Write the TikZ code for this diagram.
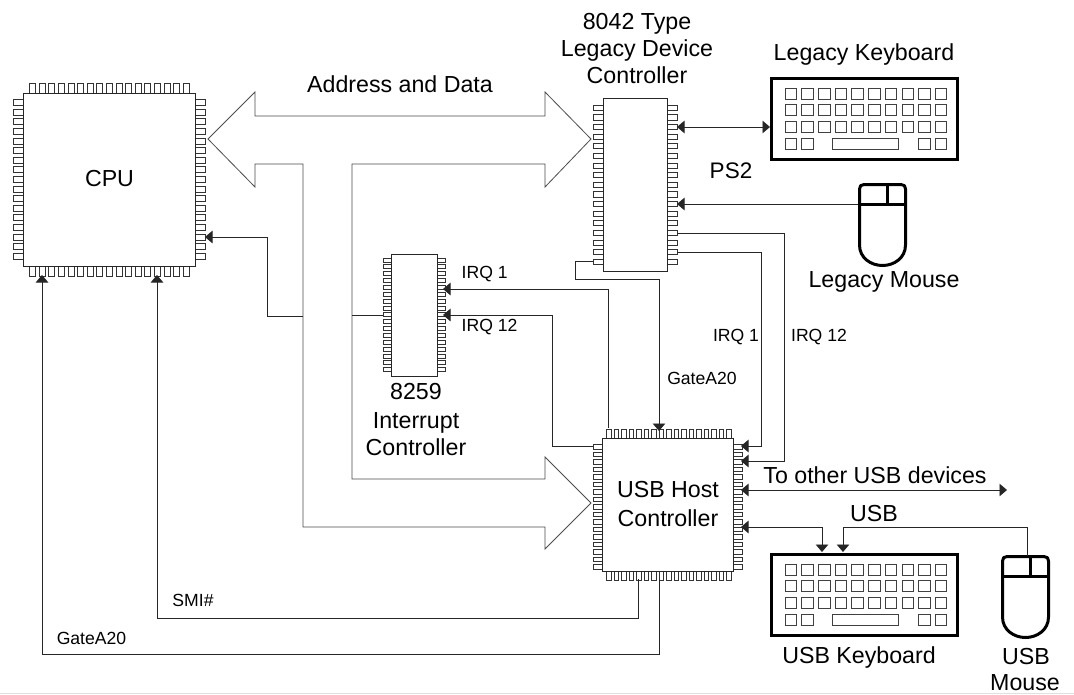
\documentclass[tikz,border=0pt]{standalone}
\usepackage{fontspec}
\setmainfont{Liberation Sans}
\usetikzlibrary{arrows.meta}
\newcommand{\bigtxt}{\fontsize{23.2}{27}\selectfont}
\newcommand{\smalltxt}{\fontsize{17.6}{21}\selectfont}
\newcommand{\pinsH}[6]{% left & right pins: x1,x2,len,firstY,pitch,halfthick
  \foreach \i in {0,...,16}{
    \pgfmathsetmacro{\yy}{#4+\i*#5}
    \draw[pin] (#1-#3,\yy-#6) rectangle (#1,\yy+#6);
    \draw[pin] (#2,\yy-#6) rectangle (#2+#3,\yy+#6);
  }}
\newcommand{\pinsV}[6]{% top & bottom pins: y1,y2,len,firstX,pitch,halfthick
  \foreach \i in {0,...,16}{
    \pgfmathsetmacro{\xx}{#4+\i*#5}
    \draw[pin] (\xx-#6,#1-#3) rectangle (\xx+#6,#1);
    \draw[pin] (\xx-#6,#2) rectangle (\xx+#6,#2+#3);
  }}
\newcommand{\keyboard}[3]{% name, x0, y0
  \node[kbdbox,minimum width=186pt,minimum height=81pt,anchor=north west] (#1) at (#2+1.5,#3+1.5) {};
  \begin{scope}[shift={(#2,#3)}]
    \foreach \r in {0,1,2}{\foreach \c in {0,...,9}{
      \draw[keycap] (15+\c*16.7,11+\r*16.7) rectangle ++(11.5,11);
    }}
    \foreach \c in {0,1,8,9}{\draw[keycap] (15+\c*16.7,61) rectangle ++(11.5,11);}
    \draw[keycap] (62,61) rectangle ++(66.5,11);
  \end{scope}}
\newcommand{\mouse}[2]{% x0, y0 (outer left, top)
  \begin{scope}[shift={(#1,#2)}]
    \draw[mousebody] (1.5,6) .. controls (1.5,3) and (3,1.5) .. (6,1.5) -- (43,1.5)
      .. controls (46,1.5) and (47.5,3) .. (47.5,6) -- (47.5,62)
      .. controls (47.5,75) and (36,82.5) .. (24.5,82.5)
      .. controls (13,82.5) and (1.5,75) .. (1.5,62) -- cycle;
    \draw[mousebody] (1.5,21.5) -- (47.5,21.5) (29.5,1.5) -- (29.5,21.5);
  \end{scope}}
\tikzset{
  pin/.style={draw=black!80,line width=0.75pt,fill=white},
  chipbox/.style={draw=black!85,line width=0.9pt,fill=white,inner sep=0pt,outer sep=0pt,align=center},
  kbdbox/.style={draw=black,line width=3pt,fill=white,inner sep=0pt,outer sep=0pt},
  keycap/.style={draw=black!75,line width=0.75pt},
  mousebody/.style={draw=black,line width=3pt,line join=round},
  bus/.style={draw=black!70,line width=0.8pt,fill=white,line join=miter},
  conn/.style={draw=black!85,line width=0.85pt},
  arr/.style={conn,-{Triangle[length=7.5pt,width=12.5pt]}},
  biarr/.style={conn,{Triangle[length=7.5pt,width=12.5pt]}-{Triangle[length=7.5pt,width=12.5pt]}},
  big/.style={font=\bigtxt,inner sep=0pt,align=center},
  small/.style={font=\smalltxt,inner sep=0pt,align=center},
}
\begin{document}
\begin{tikzpicture}[x=1pt,y=-1pt]
\useasboundingbox (0,0) rectangle (1074,694);
\fill[white] (0,0) rectangle (1074,694);
\fill[black!12] (0,692.5) rectangle (1074,694);

% ---------- chips
\pinsH{23}{195}{10}{102.5}{9.6}{3}
\pinsV{93}{266}{10}{32.5}{9.6}{3}
\node[chipbox,minimum width=172pt,minimum height=173pt,anchor=north west] (cpu) at (23,93) {};
\node[big] (cpulbl) at (109.5,179) {CPU};

\pinsH{603}{667}{10}{107.7}{9.63}{2.6}
\node[chipbox,minimum width=64pt,minimum height=173pt,anchor=north west] (kbc) at (603,98) {};

\pinsH{391}{437}{8}{260}{6.85}{2}
\node[chipbox,minimum width=46pt,minimum height=122pt,anchor=north west] (pic) at (391,254) {};

\pinsH{602}{733}{9}{447}{7.5}{2.3}
\pinsV{438}{571}{9}{609}{7.5}{2.3}
\node[chipbox,minimum width=131pt,minimum height=133pt,anchor=north west] (usb) at (602,438) {};
\node[big] (usblbl) at (668,504) {USB Host\\[1.5pt]Controller};

% ---------- shared bus
\draw[bus] (208,139) -- (255,92) -- (255,116) -- (545,116) -- (545,92) -- (591,139) -- (545,187) -- (545,164)
  -- (352,164) -- (352,479) -- (545,479) -- (545,457) -- (591,503) -- (545,549) -- (545,527)
  -- (303,527) -- (303,164) -- (255,164) -- (255,187) -- cycle;

% ---------- peripherals
\keyboard{legkbd}{770}{77}
\keyboard{usbkbd}{770}{553}
\mouse{858}{183}
\mouse{1001}{555}

% ---------- free ends
\coordinate (busA) at (303,316);
\coordinate (busB) at (352,315);
\coordinate (otherend) at (1007,490);

% ---------- connectors
\draw[arr] (busA) -- (267,316) -- (267,237) -- (205,237);
\draw[conn] (busB) -- (383,315);
\draw[biarr] (677,127) -- (770,127);
\draw[arr] (858,204) -- (677,204);
\draw[arr] (677,233) -- (784,233) -- (784,461) -- (741,461);
\draw[arr] (677,252) -- (761,252) -- (761,446) -- (741,446);
\draw[arr] (593,261) -- (575,261) -- (575,279) -- (659,279) -- (659,431);
\draw[arr] (608,428) -- (608,289) -- (443,289);
\draw[arr] (593,446) -- (552,446) -- (552,315) -- (443,315);
\draw[biarr] (741,490) -- (otherend);
\draw[biarr] (741,527) -- (822,527) -- (822,552);
\draw[arr] (1027,556) -- (1027,527) -- (843,527) -- (843,552);
\draw[arr] (638,579) -- (638,618) -- (157,618) -- (157,275);
\draw[arr] (659,579) -- (659,654) -- (42,654) -- (42,275);

% ---------- labels
\node[big] (l1) at (400,84) {Address and Data};
\node[big,text height=16pt,text depth=4pt] (l2a) at (637,23) {8042 Type};
\node[big,text height=16pt,text depth=4pt] (l2b) at (637,50) {Legacy Device};
\node[big,text height=16pt,text depth=4pt] (l2c) at (637,77) {Controller};
\node[big] (l3) at (864,54) {Legacy Keyboard};
\node[big,font=\fontsize{22.5}{27}\selectfont] (l4) at (731,171) {PS2};
\node[big] (l5) at (884,282) {Legacy Mouse};
\node[small,anchor=west] (l6) at (461.5,274.5) {IRQ 1};
\node[small,anchor=west] (l7) at (461.5,327.5) {IRQ 12};
\node[small] (l8) at (736,337) {IRQ 1};
\node[small] (l9) at (819,337) {IRQ 12};
\node[small] (l10) at (702,378) {GateA20};
\node[big,text height=16pt,text depth=4pt] (l11a) at (416,393) {8259};
\node[big,text height=16pt,text depth=4pt] (l11b) at (416,422) {Interrupt};
\node[big,text height=16pt,text depth=4pt] (l11c) at (416,449) {Controller};
\node[big] (l12) at (875,475) {To other USB devices};
\node[big] (l13) at (874,514) {USB};
\node[big] (l14) at (859,657) {USB Keyboard};
\node[big] (l15a) at (1026,657) {USB};
\node[big] (l15b) at (1025,683) {Mouse};
\node[small] (l16) at (193,600) {SMI\#};
\node[small] (l17) at (91.5,638) {GateA20};
\end{tikzpicture}
\end{document}
